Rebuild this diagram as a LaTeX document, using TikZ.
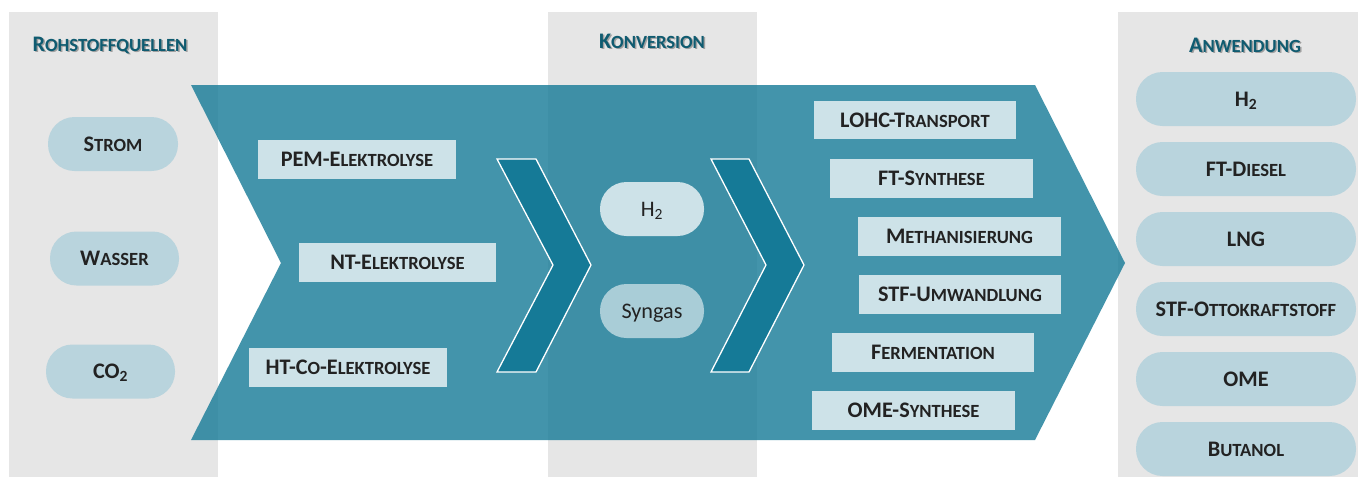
\documentclass[tikz,border=0pt]{standalone}
\usepackage{fontspec}
\setmainfont{Carlito}
\definecolor{panelgrey}{HTML}{E6E6E6}
\definecolor{chevteal}{HTML}{157A97}
\definecolor{boxfill}{HTML}{CDE2E8}
\definecolor{pillfill}{HTML}{B9D4DD}
\definecolor{headteal}{HTML}{0F5B70}
\definecolor{txtdark}{HTML}{222222}
\newcommand\bigf{\fontsize{22.2}{25}\selectfont}
\newcommand\smallf{\fontsize{18.6}{21}\selectfont}
\newcommand\SC[2]{{#1{\smallf #2}}}
\tikzset{
  lbl/.style={font=\bigf\bfseries, text=txtdark, text height=14pt, text depth=0pt, inner sep=0pt},
  procbox/.style={lbl, rectangle, fill=boxfill, minimum height=39pt},
  pill/.style={lbl, rectangle, rounded corners=26.5pt, fill=pillfill, minimum height=54pt},
  midpill/.style={rectangle, rounded corners=26.5pt, fill=boxfill, minimum width=104pt, minimum height=54pt,
     font=\bigf, text=txtdark, text height=14pt, text depth=0pt, inner sep=0pt},
  header/.style={font=\bigf\bfseries, text=headteal, inner sep=0pt, text height=14pt, text depth=0pt},
  headshadow/.style={font=\bigf\bfseries, text=black, opacity=0.3, inner sep=0pt, text height=14pt, text depth=0pt},
  panel/.style={fill=panelgrey, draw=none},
  chevron/.style={fill=chevteal, draw=white, line width=1.3pt, line join=miter}
}
\begin{document}
\begin{tikzpicture}[x=1pt,y=-1pt]
\useasboundingbox (0,0) rectangle (1358,477);
\fill[white] (0,0) rectangle (1358,477);
% panels
\fill[panel] (9,12) rectangle (218,477);
\fill[panel] (548,12) rectangle (757,477);
\fill[panel] (1118,12) rectangle (1358,477);
% headers
\node[headshadow] (h1s) at (111.5,45.5) {\SC{R}{OHSTOFFQUELLEN}};
\node[header] (h1) at (110,44) {\SC{R}{OHSTOFFQUELLEN}};
\node[headshadow] (h2s) at (653.5,42.5) {\SC{K}{ONVERSION}};
\node[header] (h2) at (652,41) {\SC{K}{ONVERSION}};
\node[headshadow] (h3s) at (1246.5,46.5) {\SC{A}{NWENDUNG}};
\node[header] (h3) at (1245,45) {\SC{A}{NWENDUNG}};
% big arrow
\fill[chevteal, opacity=0.8] (191,85) -- (1035,85) -- (1125,263) -- (1035,440) -- (191,440) -- (281,263) -- cycle;
% chevrons
\draw[chevron] (497,159) -- (536,159) -- (591,265) -- (536,372) -- (497,372) -- (553,265) -- cycle;
\draw[chevron] (711,159) -- (749,159) -- (804,265) -- (749,372) -- (711,372) -- (766,265) -- cycle;
% left pills
\node[pill, minimum width=130pt] (strom) at (113,144) {\SC{S}{TROM}};
\node[pill, minimum width=129pt] (wasser) at (114.5,258.5) {\SC{W}{ASSER}};
\node[pill, minimum width=129pt] (co2) at (110.5,371.5) {CO\textsubscript{2}};
% process boxes left
\node[procbox, minimum width=198pt] (pem) at (357,159.5) {\SC{PEM-E}{LEKTROLYSE}};
\node[procbox, minimum width=197pt] (nt) at (397.5,262.5) {\SC{NT-E}{LEKTROLYSE}};
\node[procbox, minimum width=198pt] (ht) at (348,367.5) {HT-C{\smallf O}-E{\smallf LEKTROLYSE}};
% middle pills
\node[midpill] (mh2) at (652,209) {H\textsubscript{2}};
\node[midpill, fill opacity=0.75, text opacity=1] (syn) at (652,311) {Syngas};
% process boxes right
\node[procbox, minimum width=202pt, minimum height=38pt] (lohc) at (915,120) {\SC{LOHC-T}{RANSPORT}};
\node[procbox, minimum width=203pt] (fts) at (931.5,178.5) {\SC{FT-S}{YNTHESE}};
\node[procbox, minimum width=203pt] (meth) at (959.5,236.5) {\SC{M}{ETHANISIERUNG}};
\node[procbox, minimum width=202pt] (stfu) at (960,294.5) {\SC{STF-U}{MWANDLUNG}};
\node[procbox, minimum width=202pt] (ferm) at (933,352.5) {\SC{F}{ERMENTATION}};
\node[procbox, minimum width=203pt] (omes) at (913.5,410.5) {\SC{OME-S}{YNTHESE}};
% right pills
\node[pill, minimum width=220pt] (rh2) at (1246,99) {H\textsubscript{2}};
\node[pill, minimum width=220pt] (ftd) at (1246,169) {\SC{FT-D}{IESEL}};
\node[pill, minimum width=220pt] (lng) at (1246,239) {LNG};
\node[pill, minimum width=220pt] (stfo) at (1246,309) {\SC{STF-O}{TTOKRAFTSTOFF}};
\node[pill, minimum width=220pt] (ome) at (1246,379) {OME};
\node[pill, minimum width=220pt] (but) at (1246,449) {\SC{B}{UTANOL}};
\end{tikzpicture}
\end{document}
